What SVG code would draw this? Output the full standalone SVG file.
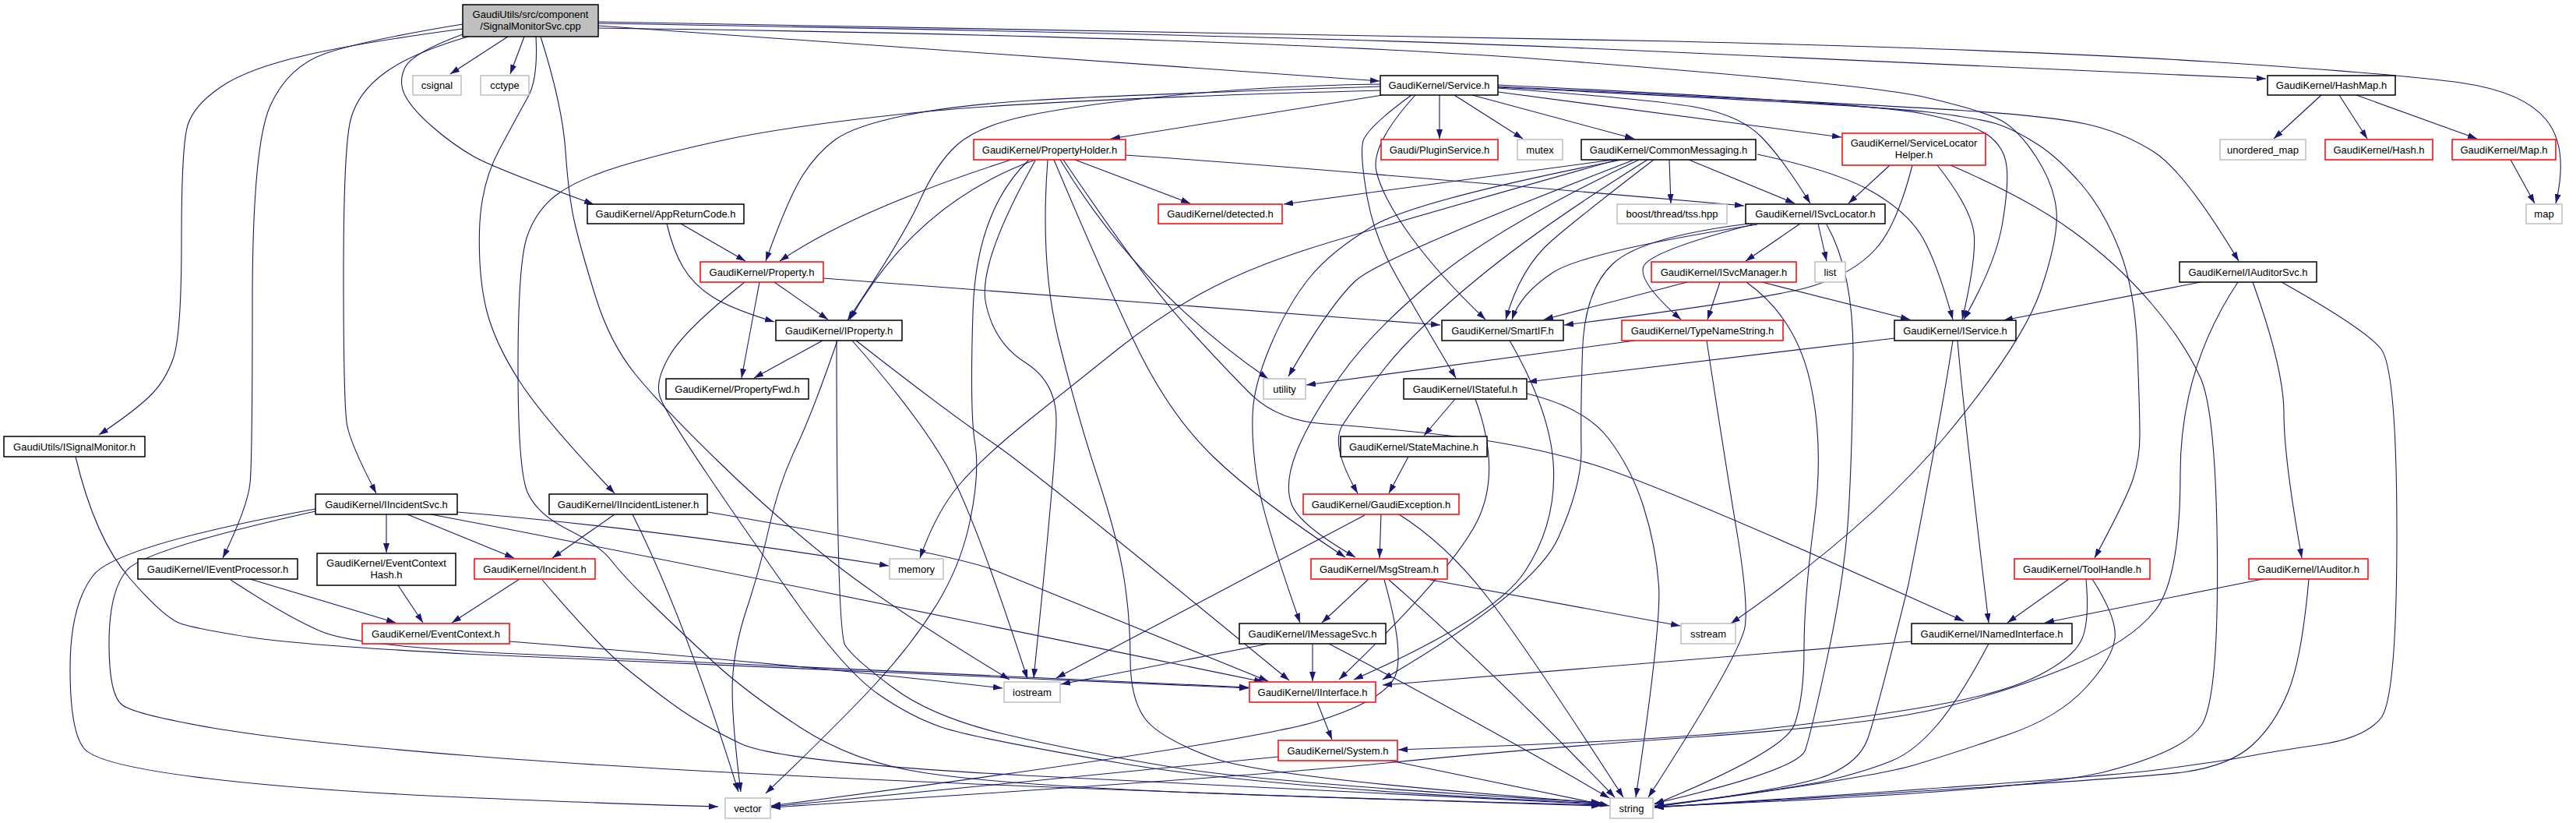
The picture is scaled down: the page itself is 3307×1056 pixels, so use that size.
<svg xmlns="http://www.w3.org/2000/svg" width="3307" height="1056" viewBox="0 0 3307 1056">
<defs>
<marker id="arr" markerUnits="userSpaceOnUse" viewBox="0 0 12 8" refX="12" refY="4" markerWidth="12" markerHeight="8" orient="auto">
<path d="M0,0 L12,4 L0,8 z" fill="#191970"/>
</marker>
<style>
.e path{fill:none;stroke:#191970;stroke-width:1.1;marker-end:url(#arr)}
.n rect{fill:#fff;stroke-width:1.5}
.d rect{stroke:#000}
.r rect{stroke:#ff0000}
.s rect{stroke:#bfbfbf}
.root rect{fill:#bfbfbf;stroke:#000}
text{font-family:"Liberation Sans",Arial,sans-serif;font-size:13px;fill:#000;text-anchor:middle}
</style>
</defs>
<rect width="3307" height="1056" fill="#fff"/>
<g id="edges" class="e">
<path d="M652,47 L578,95"/>
<path d="M673,47 L655,95"/>
<path d="M768,33 L1771,104"/>
<path d="M768,30 Q1600,44 2015,61 Q2430,78 2909,101"/>
<path d="M768,28 Q1700,42 2150,53 Q2600,64 2841,79.5 Q3082,95 3161,106.5 Q3240,118 3269,154 Q3298,190 3281,261"/>
<path d="M768,36 Q1600,47 2000,77.5 Q2400,108 2472.5,125 Q2545,142 2568,154 Q2591,166 2614,201.5 Q2637,237 2640,270.5 Q2643,304 2620,372 Q2597,440 2498.5,558.5 Q2400,677 2222,800"/>
<path d="M594,44 Q529,68 520,86.5 Q511,105 520,122.5 Q529,140 555.5,163 Q582,186 608.5,201 Q635,216 762,262"/>
<path d="M594,37 Q466,54 392,71 Q318,88 283.5,111.5 Q249,135 241,160.5 Q233,186 233,307.5 Q233,429 222.5,459.5 Q212,490 190.5,510 Q169,530 127,558"/>
<path d="M594,31 Q466,52 418,68.5 Q370,85 347,135.5 Q324,186 324,388 Q324,590 321,620 Q318,650 286,716"/>
<path d="M601,47 Q529,68 494.5,93 Q460,118 450.5,152 Q441,186 441,353 Q441,520 445.5,545 Q450,570 483,633"/>
<path d="M688,47 Q691,101 677.5,125 Q664,149 640.5,193 Q617,237 615.5,296 Q614,355 624.5,397.5 Q635,440 667.5,490 Q700,540 789,633"/>
<path d="M694,47 Q722,135 726,194 Q730,253 738,287 Q746,321 764.5,380.5 Q783,440 815.5,480 Q848,520 922,592 Q996,664 1070,722 Q1144,780 1296,872"/>
<path d="M874,287 L957,335"/>
<path d="M856,287 Q864,321 877,343 Q890,365 914,380.5 Q938,396 994,413"/>
<path d="M1775,122 L1426,178"/>
<path d="M1772,111 Q1435,122 1329.5,128.5 Q1224,135 1160,148.5 Q1096,162 1072.5,179 Q1049,196 1030.5,225 Q1012,254 983,335"/>
<path d="M1772,108 Q1630,110 1506,122.5 Q1382,135 1318.5,148.5 Q1255,162 1228.5,186 Q1202,210 1181,257 Q1160,304 1088,411"/>
<path d="M1772,116 Q1329,128 1170.5,145 Q1012,162 932.5,179 Q853,196 797,213 Q741,230 714.5,250 Q688,270 676.5,304 Q665,338 665,471.5 Q665,605 677.5,632.5 Q690,660 730,680 Q770,700 785,719.5 Q800,739 837,775 Q874,811 916.5,850 Q959,889 1027.5,933.5 Q1096,978 1186,991.5 Q1276,1005 1453,1013.5 Q1630,1022 2055,1033"/>
<path d="M1848,122 L1848,178"/>
<path d="M1867,122 L1955,178"/>
<path d="M1890,122 L2098,178"/>
<path d="M1923,113 Q2129,128 2182,138.5 Q2235,149 2261.5,176 Q2288,203 2324,261"/>
<path d="M1923,118 L2364,176"/>
<path d="M1923,109 Q2400,132 2466.5,145.5 Q2533,159 2553,174 Q2573,189 2576,213 Q2579,237 2570.5,287.5 Q2562,338 2521,410"/>
<path d="M1923,111 Q2400,134 2515.5,141.5 Q2631,149 2677.5,159 Q2724,169 2764.5,194.5 Q2805,220 2874,335"/>
<path d="M1923,112 Q2400,135 2472.5,143.5 Q2545,152 2568,160.5 Q2591,169 2617,186 Q2643,203 2672,236.5 Q2701,270 2721,321 Q2741,372 2744,451 Q2747,530 2747,559 Q2747,588 2738.5,614 Q2730,640 2689,716"/>
<path d="M1817,122 Q1759,186 1767,220 Q1775,254 1812,304.5 Q1849,355 1907,410"/>
<path d="M1812,122 Q1753,165 1749.5,182.5 Q1746,200 1755,252 Q1764,304 1793,355 Q1822,406 1869,485"/>
<path d="M1298,205 Q1096,270 1001,335"/>
<path d="M1329,205 Q1176,260 1091,410"/>
<path d="M1380,205 L1528,261"/>
<path d="M1445,199 Q1630,211 2239,264"/>
<path d="M1321,205 Q1253,270 1249,400 Q1245,530 1251.5,567.5 Q1258,605 1246,665 Q1234,725 1202,776.5 Q1170,828 1122.5,879 Q1075,930 983,1018"/>
<path d="M1329,206 Q1255,338 1265.5,389 Q1276,440 1316,465 Q1356,490 1356,539 Q1356,588 1327,870"/>
<path d="M1345,205 Q1335,338 1358.5,434 Q1382,530 1408.5,610.5 Q1435,691 1443,742 Q1451,793 1451,844.5 Q1451,896 1469.5,921.5 Q1488,947 1559,973 Q1630,999 2055,1030"/>
<path d="M1353,205 Q1409,338 1454,434 Q1499,530 1558,586.5 Q1617,643 1727,715"/>
<path d="M1361,205 Q1462,372 1628,486"/>
<path d="M1365,205 Q1470,360 1520,415 Q1570,470 1605,505 Q1640,540 1701.5,544 Q1763,548 1860.5,559 Q1958,570 2043.5,595.5 Q2129,621 2521,797"/>
<path d="M2071,205 L1648,262"/>
<path d="M2076,205 Q1759,294 1679.5,319.5 Q1600,345 1544,375.5 Q1488,406 1435,448 Q1382,490 1321,539 Q1260,588 1231,622.5 Q1202,657 1181,716"/>
<path d="M2082,205 Q1817,257 1762.5,290 Q1708,323 1681,356.5 Q1654,390 1632.5,440 Q1611,490 1608.5,525 Q1606,560 1613,610 Q1620,660 1669,799"/>
<path d="M2098,205 Q1773,330 1740.5,360 Q1708,390 1654,483"/>
<path d="M2104,205 Q1925,290 1844,356.5 Q1763,423 1721.5,481.5 Q1680,540 1664,581 Q1648,622 1658.5,648 Q1669,674 1740,715"/>
<path d="M2115,205 Q1979,290 1898,356.5 Q1817,423 1778.5,471.5 Q1740,520 1723.5,545.5 Q1707,571 1743,633"/>
<path d="M2123,205 Q2034,273 1993,308 Q1952,343 1933,410"/>
<path d="M2143,205 L2145,261"/>
<path d="M2168,205 L2304,261"/>
<path d="M2256,198 Q2359,220 2404.5,246.5 Q2450,273 2468.5,305.5 Q2487,338 2507,410"/>
<path d="M2426,212 L2373,261"/>
<path d="M2455,212 Q2435,290 2407.5,320 Q2380,350 2328.5,366.5 Q2277,383 2008,417"/>
<path d="M2487,212 Q2533,270 2534.5,304 Q2536,338 2519,410"/>
<path d="M2504,212 Q2602,254 2660,296 Q2718,338 2761.5,389 Q2805,440 2825,485 Q2845,530 2846.5,713 Q2848,896 2826.5,930 Q2805,964 2703.5,990 Q2602,1016 2124,1035"/>
<path d="M2311,287 L2241,335"/>
<path d="M2334,287 L2345,335"/>
<path d="M2256,288 Q2034,323 1993,350 Q1952,377 1941,410"/>
<path d="M2250,288 Q2115,323 2109.5,343 Q2104,363 2158,410"/>
<path d="M2245,287 Q2108,304 2071,338 Q2034,372 2031.5,451 Q2029,530 2030,576 Q2031,622 2000.5,690 Q1970,758 1775,872"/>
<path d="M2345,288 Q2380,350 2379,460 Q2378,570 2373.5,652.5 Q2369,735 2347.5,836 Q2326,937 2317.5,962.5 Q2309,988 2124,1031"/>
<path d="M2166,362 L1982,410"/>
<path d="M2208,362 L2192,410"/>
<path d="M2262,362 L2452,410"/>
<path d="M2242,362 Q2305,407 2323.5,488.5 Q2342,570 2329,669 Q2316,768 2316,832 Q2316,896 2303.5,930 Q2291,964 2124,1032"/>
<path d="M2099,437 L1677,494"/>
<path d="M2191,437 Q2216,600 2230,684 Q2244,768 2240.5,802 Q2237,836 2116,1023"/>
<path d="M1938,437 Q1992,530 1994.5,602 Q1997,674 1957.5,733.5 Q1918,793 1738,872"/>
<path d="M1868,512 L1828,559"/>
<path d="M1894,512 Q1928,605 1896.5,668.5 Q1865,732 1719,872"/>
<path d="M1960,505 Q2034,523 2064,561.5 Q2094,600 2110,650.5 Q2126,701 2129.5,751.5 Q2133,802 2100,1023"/>
<path d="M1808,586 L1783,633"/>
<path d="M1773,660 L1771,716"/>
<path d="M1752,661 L1356,870"/>
<path d="M1796,660 Q1856,698 1907,763 Q1958,828 2084,1023"/>
<path d="M1757,743 L1697,799"/>
<path d="M1831,743 L2157,803"/>
<path d="M1777,744 Q1801,828 1793,862 Q1785,896 1692.5,925 Q1600,954 990,1034"/>
<path d="M1783,744 Q1918,862 2073,1023"/>
<path d="M1685,826 L1685,874"/>
<path d="M1628,826 L1362,878"/>
<path d="M1706,826 Q1905,930 2066,1024"/>
<path d="M1691,901 L1710,949"/>
<path d="M1641,971 L990,1035"/>
<path d="M1780,975 L2066,1034"/>
<path d="M2656,743 L2577,799"/>
<path d="M2678,743 Q2683,800 2671.5,822.5 Q2660,845 2616.5,867 Q2573,889 2486.5,904.5 Q2400,920 2264.5,935.5 Q2129,951 1795,962"/>
<path d="M2686,743 Q2718,793 2715,819 Q2712,845 2677.5,882.5 Q2643,920 2579.5,942 Q2516,964 2458,981.5 Q2400,999 2124,1035"/>
<path d="M2825,362 L2572,411"/>
<path d="M2892,362 Q2932,473 2932,530 Q2932,588 2955,716"/>
<path d="M2873,362 Q2799,473 2799,607.5 Q2799,742 2767,783 Q2735,824 2654,856.5 Q2573,889 2486.5,909.5 Q2400,930 2179.5,945.5 Q1959,961 1779.5,979 Q1600,997 990,1036"/>
<path d="M2929,362 Q3036,422 3056.5,447.5 Q3077,473 3077,684.5 Q3077,896 3056.5,921.5 Q3036,947 2978,955.5 Q2920,964 2891.5,969.5 Q2863,975 2776,987 Q2689,999 2124,1036"/>
<path d="M2905,743 L2625,799"/>
<path d="M2964,743 Q2955,845 2937.5,887.5 Q2920,930 2891.5,956 Q2863,982 2805,990.5 Q2747,999 2124,1036"/>
<path d="M2454,823 L1775,879"/>
<path d="M2553,826 Q2516,896 2487,930 Q2458,964 2429,976 Q2400,988 2354.5,999.5 Q2309,1011 2124,1034"/>
<path d="M2513,437 Q2521,530 2553,799"/>
<path d="M2507,437 Q2493,530 2450,750 Q2408,920 2397.5,948.5 Q2387,977 2348,994 Q2309,1011 2124,1035"/>
<path d="M2432,434 L1961,490"/>
<path d="M2980,122 L2919,178"/>
<path d="M3003,122 L3039,178"/>
<path d="M3025,122 L3180,178"/>
<path d="M3223,205 L3254,261"/>
<path d="M496,660 L496,709"/>
<path d="M523,660 L660,716"/>
<path d="M587,657 Q830,677 1141,726"/>
<path d="M553,660 Q830,712 1622,875"/>
<path d="M405,653 Q150,700 120,738 Q90,776 90,858 Q90,940 108.5,961 Q127,982 263.5,998.5 Q400,1015 615,1024 Q830,1033 922,1035"/>
<path d="M405,656 Q185,705 162.5,732 Q140,759 140,826 Q140,893 157.5,905 Q175,917 273,934 Q371,951 600.5,969.5 Q830,988 1230,1005 Q1630,1022 2055,1034"/>
<path d="M789,660 L709,716"/>
<path d="M909,657 Q1224,711 1276.5,731.5 Q1329,752 1628,874"/>
<path d="M812,660 Q879,793 948,1016"/>
<path d="M667,743 L580,799"/>
<path d="M696,744 Q768,828 799,853.5 Q830,879 865,904.5 Q900,930 950.5,954 Q1001,978 1315.5,995 Q1630,1012 2055,1032"/>
<path d="M511,751 L543,799"/>
<path d="M654,823 Q1000,850 1287,883"/>
<path d="M321,743 L508,799"/>
<path d="M296,744 Q371,793 413,810.5 Q455,828 642.5,838 Q830,848 1603,882"/>
<path d="M97,586 Q122,691 167,742.5 Q212,794 233,800.5 Q254,807 320,817.5 Q386,828 608,839.5 Q830,851 1603,883"/>
<path d="M994,362 L1063,410"/>
<path d="M975,362 L952,485"/>
<path d="M1057,357 L1849,417"/>
<path d="M956,362 Q879,423 859.5,456.5 Q840,490 847.5,510 Q855,530 907,607 Q959,684 1022.5,773 Q1086,862 1128,891 Q1170,920 1210,933.5 Q1250,947 1440,979.5 Q1630,1012 2055,1031"/>
<path d="M1056,437 L968,485"/>
<path d="M1075,437 Q1043,530 1021.5,575 Q1000,620 987.5,676 Q975,732 959,780 Q943,828 940.5,870.5 Q938,913 951,1016"/>
<path d="M1074,437 Q1074,811 1085,828 Q1096,845 1146.5,882.5 Q1197,920 1289.5,942 Q1382,964 1506,984.5 Q1630,1005 2055,1030"/>
<path d="M1094,437 Q1176,530 1213,593.5 Q1250,657 1319,871"/>
<path d="M1099,437 Q1218,530 1273.5,567.5 Q1329,605 1655,873"/>
</g>
<g id="root" class="n root"><rect x="594" y="6" width="174" height="41"/><text x="681" y="23">GaudiUtils/src/component</text><text x="681" y="38">/SignalMonitorSvc.cpp</text></g>
<g id="n_csignal" class="n s"><rect x="530" y="97" width="62" height="25"/><text x="561" y="114">csignal</text></g>
<g id="n_cctype" class="n s"><rect x="617" y="97" width="62" height="25"/><text x="648" y="114">cctype</text></g>
<g id="n_service" class="n d"><rect x="1772" y="97" width="151" height="25"/><text x="1847.5" y="114">GaudiKernel/Service.h</text></g>
<g id="n_hashmap" class="n d"><rect x="2911" y="97" width="164" height="25"/><text x="2993" y="114">GaudiKernel/HashMap.h</text></g>
<g id="n_propertyholder" class="n r"><rect x="1250" y="179" width="195" height="26"/><text x="1347.5" y="196.5">GaudiKernel/PropertyHolder.h</text></g>
<g id="n_pluginservice" class="n r"><rect x="1773" y="179" width="150" height="26"/><text x="1848" y="196.5">Gaudi/PluginService.h</text></g>
<g id="n_mutex" class="n s"><rect x="1948" y="179" width="58" height="26"/><text x="1977" y="196.5">mutex</text></g>
<g id="n_commonmessaging" class="n d"><rect x="2030" y="179" width="224" height="26"/><text x="2142" y="196.5">GaudiKernel/CommonMessaging.h</text></g>
<g id="n_servicelocatorhelper" class="n r"><rect x="2365" y="171" width="184" height="41"/><text x="2457" y="188">GaudiKernel/ServiceLocator</text><text x="2457" y="203">Helper.h</text></g>
<g id="n_unordered_map" class="n s"><rect x="2850" y="179" width="110" height="26"/><text x="2905" y="196.5">unordered_map</text></g>
<g id="n_hash" class="n r"><rect x="2985" y="179" width="138" height="26"/><text x="3054" y="196.5">GaudiKernel/Hash.h</text></g>
<g id="n_maph" class="n r"><rect x="3148" y="179" width="133" height="26"/><text x="3214.5" y="196.5">GaudiKernel/Map.h</text></g>
<g id="n_appreturncode" class="n d"><rect x="754" y="262" width="201" height="25"/><text x="854.5" y="279">GaudiKernel/AppReturnCode.h</text></g>
<g id="n_detected" class="n r"><rect x="1487" y="262" width="159" height="25"/><text x="1566.5" y="279">GaudiKernel/detected.h</text></g>
<g id="n_tss" class="n s"><rect x="2076" y="262" width="141" height="25"/><text x="2146.5" y="279">boost/thread/tss.hpp</text></g>
<g id="n_isvclocator" class="n d"><rect x="2241" y="262" width="179" height="25"/><text x="2330.5" y="279">GaudiKernel/ISvcLocator.h</text></g>
<g id="n_map" class="n s"><rect x="3243" y="262" width="46" height="25"/><text x="3266" y="279">map</text></g>
<g id="n_property" class="n r"><rect x="899" y="336" width="158" height="26"/><text x="978" y="353.5">GaudiKernel/Property.h</text></g>
<g id="n_isvcmanager" class="n r"><rect x="2120" y="336" width="186" height="26"/><text x="2213" y="353.5">GaudiKernel/ISvcManager.h</text></g>
<g id="n_list" class="n s"><rect x="2330" y="336" width="39" height="26"/><text x="2349.5" y="353.5">list</text></g>
<g id="n_iauditorsvc" class="n d"><rect x="2798" y="336" width="176" height="26"/><text x="2886" y="353.5">GaudiKernel/IAuditorSvc.h</text></g>
<g id="n_iproperty" class="n d"><rect x="996" y="411" width="162" height="26"/><text x="1077" y="428.5">GaudiKernel/IProperty.h</text></g>
<g id="n_smartif" class="n d"><rect x="1851" y="411" width="156" height="26"/><text x="1929" y="428.5">GaudiKernel/SmartIF.h</text></g>
<g id="n_typenamestring" class="n r"><rect x="2082" y="411" width="207" height="26"/><text x="2185.5" y="428.5">GaudiKernel/TypeNameString.h</text></g>
<g id="n_iservice" class="n d"><rect x="2432" y="411" width="156" height="26"/><text x="2510" y="428.5">GaudiKernel/IService.h</text></g>
<g id="n_propertyfwd" class="n d"><rect x="855" y="486" width="183" height="26"/><text x="946.5" y="503.5">GaudiKernel/PropertyFwd.h</text></g>
<g id="n_utility" class="n s"><rect x="1622" y="486" width="54" height="26"/><text x="1649" y="503.5">utility</text></g>
<g id="n_istateful" class="n d"><rect x="1802" y="486" width="158" height="26"/><text x="1881" y="503.5">GaudiKernel/IStateful.h</text></g>
<g id="n_isignalmonitor" class="n d"><rect x="5" y="560" width="181" height="26"/><text x="95.5" y="577.5">GaudiUtils/ISignalMonitor.h</text></g>
<g id="n_statemachine" class="n d"><rect x="1721" y="560" width="188" height="26"/><text x="1815" y="577.5">GaudiKernel/StateMachine.h</text></g>
<g id="n_iincidentsvc" class="n d"><rect x="405" y="634" width="182" height="26"/><text x="496" y="651.5">GaudiKernel/IIncidentSvc.h</text></g>
<g id="n_iincidentlistener" class="n d"><rect x="705" y="634" width="203" height="26"/><text x="806.5" y="651.5">GaudiKernel/IIncidentListener.h</text></g>
<g id="n_gaudiexception" class="n r"><rect x="1673" y="634" width="200" height="26"/><text x="1773" y="651.5">GaudiKernel/GaudiException.h</text></g>
<g id="n_ieventprocessor" class="n d"><rect x="177" y="717" width="205" height="26"/><text x="279.5" y="734.5">GaudiKernel/IEventProcessor.h</text></g>
<g id="n_eventcontexthash" class="n d"><rect x="407" y="710" width="178" height="41"/><text x="496" y="727">GaudiKernel/EventContext</text><text x="496" y="742">Hash.h</text></g>
<g id="n_incident" class="n r"><rect x="609" y="717" width="155" height="26"/><text x="686.5" y="734.5">GaudiKernel/Incident.h</text></g>
<g id="n_memory" class="n s"><rect x="1142" y="717" width="69" height="26"/><text x="1176.5" y="734.5">memory</text></g>
<g id="n_msgstream" class="n r"><rect x="1683" y="717" width="175" height="26"/><text x="1770.5" y="734.5">GaudiKernel/MsgStream.h</text></g>
<g id="n_toolhandle" class="n r"><rect x="2586" y="717" width="174" height="26"/><text x="2673" y="734.5">GaudiKernel/ToolHandle.h</text></g>
<g id="n_iauditor" class="n r"><rect x="2887" y="717" width="153" height="26"/><text x="2963.5" y="734.5">GaudiKernel/IAuditor.h</text></g>
<g id="n_eventcontext" class="n r"><rect x="465" y="800" width="189" height="26"/><text x="559.5" y="817.5">GaudiKernel/EventContext.h</text></g>
<g id="n_imessagesvc" class="n d"><rect x="1591" y="800" width="188" height="26"/><text x="1685" y="817.5">GaudiKernel/IMessageSvc.h</text></g>
<g id="n_sstream" class="n s"><rect x="2158" y="800" width="70" height="26"/><text x="2193" y="817.5">sstream</text></g>
<g id="n_inamedinterface" class="n d"><rect x="2454" y="800" width="206" height="26"/><text x="2557" y="817.5">GaudiKernel/INamedInterface.h</text></g>
<g id="n_iostream" class="n s"><rect x="1289" y="875" width="72" height="26"/><text x="1325" y="892.5">iostream</text></g>
<g id="n_iinterface" class="n r"><rect x="1604" y="875" width="162" height="26"/><text x="1685" y="892.5">GaudiKernel/IInterface.h</text></g>
<g id="n_system" class="n r"><rect x="1641" y="950" width="153" height="26"/><text x="1717.5" y="967.5">GaudiKernel/System.h</text></g>
<g id="n_vector" class="n s"><rect x="931" y="1024" width="58" height="26"/><text x="960" y="1041.5">vector</text></g>
<g id="n_string" class="n s"><rect x="2067" y="1024" width="55" height="26"/><text x="2094.5" y="1041.5">string</text></g>
</svg>
